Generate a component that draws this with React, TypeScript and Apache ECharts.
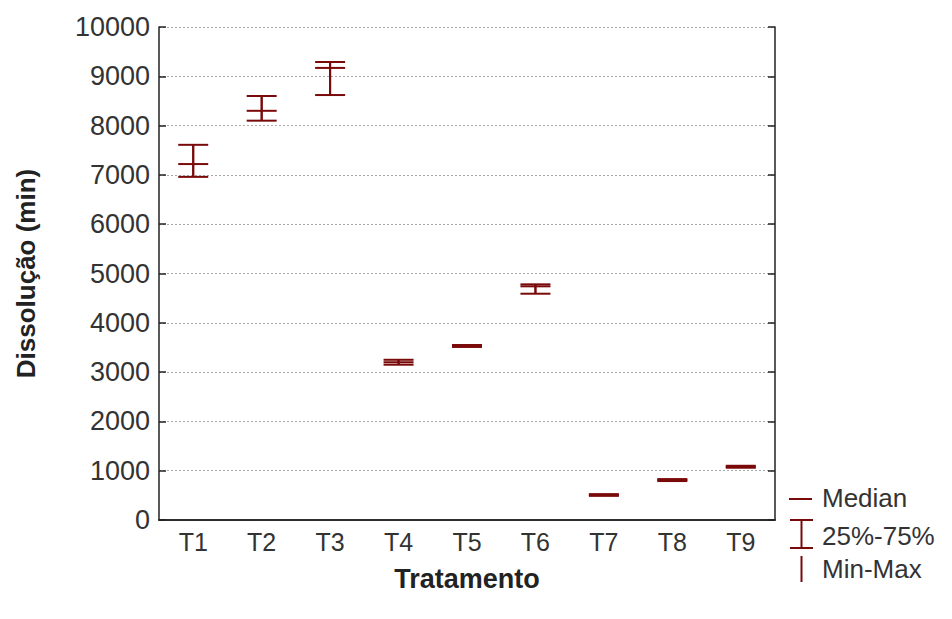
import React, { useEffect, useRef } from "react";
import * as echarts from "echarts";

const categories = ["T1", "T2", "T3", "T4", "T5", "T6", "T7", "T8", "T9"];
const minValues = [6960, 8100, 8620, 3150, 3510, 4590, 490, 790, 1060];
const q1Values = [6960, 8100, 8620, 3150, 3510, 4590, 490, 790, 1060];
const medianValues = [7220, 8300, 9170, 3200, 3530, 4740, 505, 810, 1080];
const q3Values = [7610, 8600, 9290, 3250, 3550, 4780, 525, 830, 1100];
const maxValues = [7610, 8600, 9290, 3250, 3550, 4780, 525, 830, 1100];
const legendLabels = ["Median", "25%-75%", "Min-Max"];

const COLOR = "#7a0a0a";
const FONT = "'Liberation Sans', Arial, sans-serif";

export default function App() {
  const ref = useRef<HTMLDivElement>(null);
  useEffect(() => {
    if (!ref.current) return;
    const chart = echarts.init(ref.current, undefined, { renderer: "svg" });
    const data = categories.map((_, i) => [
      i,
      minValues[i],
      q1Values[i],
      medianValues[i],
      q3Values[i],
      maxValues[i],
    ]);
    const half = 15;
    chart.setOption({
      animation: false,
      backgroundColor: "#ffffff",
      grid: { left: 159, right: 177, top: 27, bottom: 99, containLabel: false },
      xAxis: [
        {
          type: "category",
          data: categories,
          boundaryGap: true,
          position: "bottom",
          name: "Tratamento",
          nameLocation: "middle",
          nameGap: 45,
          nameTextStyle: { fontFamily: FONT, fontSize: 27, fontWeight: "bold", color: "#222" },
          axisLine: { lineStyle: { color: "#222", width: 1.5 } },
          axisTick: { inside: true, alignWithLabel: true, length: 7, lineStyle: { color: "#222", width: 1.5 } },
          axisLabel: { fontFamily: FONT, fontSize: 25, color: "#333", margin: 9 },
          splitLine: { show: false },
        },
        {
          type: "category",
          data: categories,
          boundaryGap: true,
          position: "top",
          axisLine: { lineStyle: { color: "#222", width: 1.5 } },
          axisTick: { inside: true, alignWithLabel: true, length: 7, lineStyle: { color: "#222", width: 1.5 } },
          axisLabel: { show: false },
          splitLine: { show: false },
        },
      ],
      yAxis: [
        {
          type: "value",
          min: 0,
          max: 10000,
          interval: 1000,
          position: "left",
          name: "Dissolução (min)",
          nameLocation: "middle",
          nameRotate: 90,
          nameGap: 120,
          nameTextStyle: { fontFamily: FONT, fontSize: 26, fontWeight: "bold", color: "#222" },
          axisLine: { show: true, lineStyle: { color: "#222", width: 1.5 } },
          axisTick: { show: true, inside: true, length: 7, lineStyle: { color: "#222", width: 1.5 } },
          axisLabel: {
            fontFamily: FONT,
            fontSize: 27,
            color: "#333",
            margin: 9,
            formatter: (v: number) => String(v),
          },
          splitLine: { show: true, lineStyle: { color: "#aaa", type: [2, 2], width: 1 } },
        },
        {
          type: "value",
          min: 0,
          max: 10000,
          interval: 1000,
          position: "right",
          axisLine: { show: true, lineStyle: { color: "#222", width: 1.5 } },
          axisTick: { show: true, inside: true, length: 7, lineStyle: { color: "#222", width: 1.5 } },
          axisLabel: { show: false },
          splitLine: { show: false },
        },
      ],
      series: [
        {
          type: "custom",
          xAxisIndex: 0,
          yAxisIndex: 0,
          data,
          encode: { x: 0, y: [1, 2, 3, 4, 5] },
          renderItem: (params: any, api: any) => {
            const idx = api.value(0);
            const pMin = api.coord([idx, api.value(1)]);
            const pQ1 = api.coord([idx, api.value(2)]);
            const pMed = api.coord([idx, api.value(3)]);
            const pQ3 = api.coord([idx, api.value(4)]);
            const pMax = api.coord([idx, api.value(5)]);
            const x = pMed[0];
            const style = { stroke: COLOR, lineWidth: 2 };
            return {
              type: "group",
              children: [
                { type: "line", shape: { x1: x, y1: pMin[1], x2: x, y2: pMax[1] }, style },
                { type: "line", shape: { x1: x, y1: pQ1[1], x2: x, y2: pQ3[1] }, style },
                { type: "line", shape: { x1: x - half, y1: pQ1[1], x2: x + half, y2: pQ1[1] }, style },
                { type: "line", shape: { x1: x - half, y1: pQ3[1], x2: x + half, y2: pQ3[1] }, style },
                { type: "line", shape: { x1: x - half, y1: pMed[1], x2: x + half, y2: pMed[1] }, style },
              ],
            };
          },
        },
      ],
      graphic: [
        { type: "line", shape: { x1: 789, y1: 499, x2: 812, y2: 499 }, style: { stroke: COLOR, lineWidth: 2 } },
        { type: "line", shape: { x1: 790, y1: 520, x2: 813, y2: 520 }, style: { stroke: COLOR, lineWidth: 2 } },
        { type: "line", shape: { x1: 790, y1: 548, x2: 813, y2: 548 }, style: { stroke: COLOR, lineWidth: 2 } },
        { type: "line", shape: { x1: 801.5, y1: 520, x2: 801.5, y2: 548 }, style: { stroke: COLOR, lineWidth: 2 } },
        { type: "line", shape: { x1: 801.5, y1: 556, x2: 801.5, y2: 582 }, style: { stroke: COLOR, lineWidth: 2 } },
        { type: "text", x: 822, y: 498, style: { text: legendLabels[0], font: `26px ${FONT}`, fill: "#333", verticalAlign: "middle" } },
        { type: "text", x: 822, y: 536, style: { text: legendLabels[1], font: `26px ${FONT}`, fill: "#333", verticalAlign: "middle" } },
        { type: "text", x: 822, y: 569, style: { text: legendLabels[2], font: `26px ${FONT}`, fill: "#333", verticalAlign: "middle" } },
      ],
    });
    return () => chart.dispose();
  }, []);
  return <div ref={ref} style={{ width: 952, height: 619, margin: -8 }} />;
}
